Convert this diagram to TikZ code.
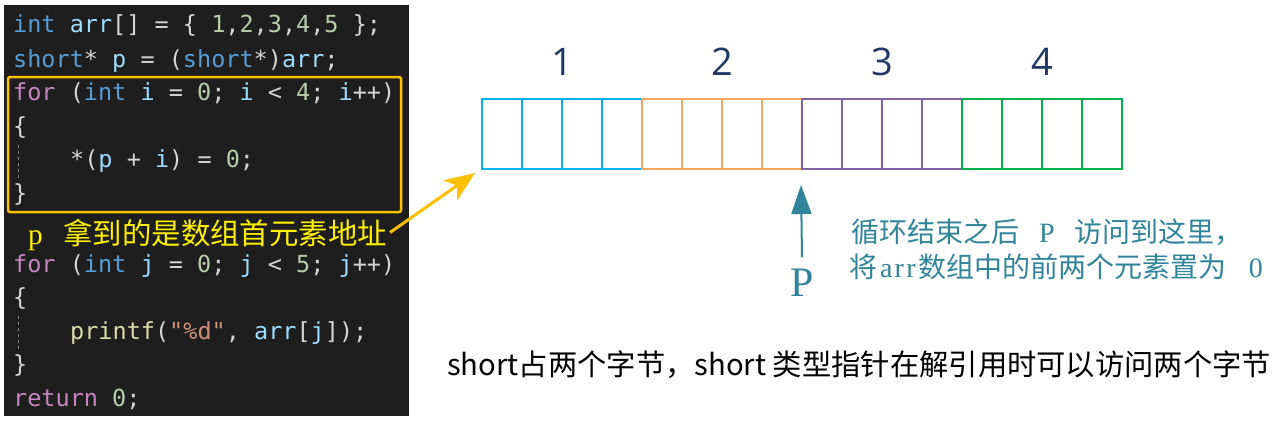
\documentclass[tikz,border=0pt]{standalone}
\usepackage{fontspec}
\usetikzlibrary{arrows.meta}

\newfontfamily\cjk{Noto Sans CJK SC}
\newfontfamily\codefont{DejaVu Sans Mono}
\newfontfamily\serifont{Liberation Serif}
\newfontfamily\numfont{Open Sans}

\definecolor{codebg}{HTML}{1E1E1E}
\definecolor{codetext}{HTML}{D4D4D4}
\definecolor{codekw}{HTML}{569CD6}
\definecolor{codevar}{HTML}{9CDCFE}
\definecolor{codenum}{HTML}{B5CEA8}
\definecolor{codectl}{HTML}{C586C0}
\definecolor{codefun}{HTML}{DCDCAA}
\definecolor{codestr}{HTML}{CE9178}
\definecolor{hlorange}{RGB}{255,192,0}
\definecolor{noteyellow}{RGB}{255,240,0}
\definecolor{cblue}{RGB}{0,176,240}
\definecolor{corange}{RGB}{246,165,98}
\definecolor{cpurple}{RGB}{128,100,162}
\definecolor{cgreen}{RGB}{0,176,80}
\definecolor{numnavy}{RGB}{31,56,100}
\definecolor{ptrteal}{RGB}{49,133,155}

\newcommand{\ckw}[1]{\textcolor{codekw}{#1}}
\newcommand{\cvar}[1]{\textcolor{codevar}{#1}}
\newcommand{\cnum}[1]{\textcolor{codenum}{#1}}
\newcommand{\cctl}[1]{\textcolor{codectl}{#1}}
\newcommand{\cfun}[1]{\textcolor{codefun}{#1}}
\newcommand{\cstr}[1]{\textcolor{codestr}{#1}}

\begin{document}
\begin{tikzpicture}[
        x=1pt, y=-1pt,
        codeline/.style={
            anchor=base west,
            inner sep=0pt,
            text=codetext,
            font=\codefont\fontsize{23.5}{28}\selectfont
        },
        cell/.style={
            draw=#1,
            line width=2pt,
            minimum width=40pt,
            minimum height=70pt,
            inner sep=0pt
        },
        grouplabel/.style={
            anchor=base,
            inner sep=0pt,
            text=numnavy,
            font=\numfont\fontsize{38}{44}\selectfont
        },
        tealtext/.style={
            anchor=base,
            inner sep=0pt,
            text=ptrteal,
            font=\serifont\fontsize{28}{32}\selectfont
        }
    ]
    \useasboundingbox (0,0) rectangle (1281,420);

    % Code panel
    \fill[codebg] (4,5) rectangle (409,416);
    \node[codeline] (l1)  at (13,33)  {\ckw{int} \cvar{arr}[] = \{ \cnum{1},\cnum{2},\cnum{3},\cnum{4},\cnum{5} \};};
    \node[codeline] (l2)  at (13,67)  {\ckw{short}* \cvar{p} = (\ckw{short}*)\cvar{arr};};
    \node[codeline] (l3)  at (13,100) {\cctl{for} (\ckw{int} \cvar{i} = \cnum{0}; \cvar{i} < \cnum{4}; \cvar{i}++)};
    \node[codeline] (l4)  at (13,134) {\{};
    \node[codeline] (l5)  at (70,167) {*(\cvar{p} + \cvar{i}) = \cnum{0};};
    \node[codeline] (l6)  at (13,201) {\}};
    \node[codeline] (l7)  at (13,272) {\cctl{for} (\ckw{int} \cvar{j} = \cnum{0}; \cvar{j} < \cnum{5}; \cvar{j}++)};
    \node[codeline] (l8)  at (13,305) {\{};
    \node[codeline] (l9)  at (70,339) {\cfun{printf}(\cstr{"\%d"}, \cvar{arr}[\cvar{j}]);};
    \node[codeline] (l10) at (13,372) {\}};
    \node[codeline] (l11) at (13,406) {\cctl{return} \cnum{0};};
    \draw[gray, dashed, line width=0.6pt] (18,145) -- (18,178);
    \draw[gray, dashed, line width=0.6pt] (18,316) -- (18,350);

    % Highlight and note
    \draw[hlorange, line width=2.5pt, rounded corners=2pt] (8,77) rectangle (401,212);
    \node[anchor=base west, inner sep=0pt, text=noteyellow,
          font=\serifont\fontsize{29.4}{33}\selectfont]
        (note) at (28,244) {p\hspace{0.7em}{\cjk 拿到的是数组首元素地址}};

    % Memory cells
    \foreach \g/\col in {1/cblue, 2/corange, 3/cpurple, 4/cgreen} {
        \foreach \k in {1,...,4} {
            \node[cell=\col] (c-\g-\k) at ({482+160*(\g-1)+40*(\k-1)+20}, 134) {};
        }
        \node[grouplabel] (g\g) at ({562+160*(\g-1)}, 75) {\g};
    }

    % Arrows
    \draw[hlorange, line width=3pt, -{Stealth[length=30pt, width=24pt, inset=8pt]}]
        ([xshift=3pt, yshift=2pt]note.east) -- ([xshift=-6pt, yshift=-3pt]c-1-1.south west);

    \node[anchor=base, inner sep=0pt, text=ptrteal,
          font=\serifont\fontsize{42}{46}\selectfont] (pl) at (802,296) {P};
    \draw[ptrteal, line width=2pt, -{Triangle[length=29pt, width=20pt]}]
        ([yshift=11pt]pl.north) -- ([yshift=-15pt]c-3-1.south west);

    % Explanations
    \node[tealtext] (t1) at (1047,242) {{\cjk 循环结束之后}\hspace{0.7em}P\hspace{0.7em}{\cjk 访问到这里，}};
    \node[tealtext] (t2) at (1056,277) {{\cjk 将}\hspace{0.1em}a\hspace{0.08em}r\hspace{0.08em}r\hspace{0.1em}{\cjk 数组中的前两个元素置为}\hspace{0.8em}0};
    \node[anchor=west, inner sep=0pt, font=\cjk\fontsize{29.3}{33}\selectfont]
        (summary) at (447,365) {short占两个字节，short 类型指针在解引用时可以访问两个字节};

\end{tikzpicture}
\end{document}
